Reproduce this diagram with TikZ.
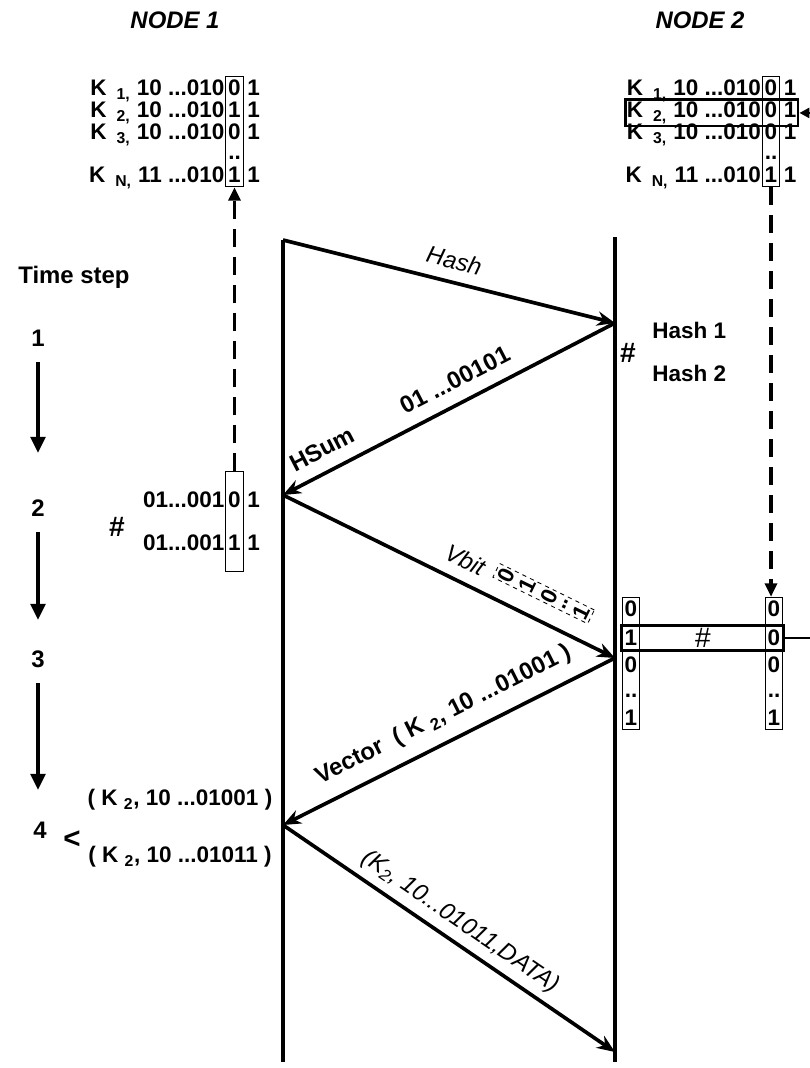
\documentclass[tikz,border=0pt]{standalone}
\usepackage{fontspec}
\setmainfont{Liberation Sans}
\usetikzlibrary{arrows.meta,positioning,fit}

\begin{document}
\begin{tikzpicture}[
    x=0.025cm, y=-0.025cm,
    txt/.style={font=\fontsize{16}{18}\selectfont\bfseries, inner sep=0pt},
    lbl/.style={font=\fontsize{17}{19}\selectfont\bfseries, inner sep=9pt},
    ilbl/.style={font=\fontsize{17}{19}\selectfont\itshape, inner sep=8pt},
    bit/.style={txt, minimum width=0.42cm, minimum height=0.5cm},
    colbox/.style={draw, line width=0.6pt, inner xsep=0pt, inner ysep=1pt},
    rowbox/.style={draw, line width=1.8pt, inner xsep=1pt, inner ysep=0.05cm},
    vecbox/.style={draw, dashed, line width=0.6pt, inner xsep=2pt, inner ysep=1pt, font=\fontsize{16}{18}\selectfont\bfseries},
    lifeline/.style={line width=2.6pt},
    msg/.style={-{Stealth[length=4.5mm,width=3.6mm]}, line width=2.6pt},
    tarrow/.style={-{Triangle[length=4mm,width=3.6mm]}, line width=2.6pt},
    dasharrow/.style={-{Triangle[length=3.4mm,width=3mm]}, line width=2.8pt, dash pattern=on 0.45cm off 0.25cm},
    link/.style={-{Triangle[length=2.5mm,width=2.5mm]}, line width=1.8pt}
]
  \clip (0,0) rectangle (810,1068);

  % headers
  \node[txt, font=\fontsize{17}{19}\selectfont\bfseries\itshape] (node1) at (175,20) {NODE 1};
  \node[txt, font=\fontsize{17}{19}\selectfont\bfseries\itshape] (node2) at (700,20) {NODE 2};

  % key tables
  \foreach \sub/\bits/\dl/\dr/\y in {1/10/0/0/88, 2/10/1/0/110, 3/10/0/0/132, N/11/1/1/175} {
    \node[bit] (l\sub) at (234.5,\y) {\dl};
    \node[txt, base left=0.03cm of l\sub] (lp\sub) {K \,\textsubscript{\sub,} \bits\ ...010};
    \node[txt, base right=0.1cm of l\sub] (le\sub) {1};
    \node[bit] (r\sub) at (771,\y) {\dr};
    \node[txt, base left=0.03cm of r\sub] (rp\sub) {K \,\textsubscript{\sub,} \bits\ ...010};
    \node[txt, base right=0.1cm of r\sub] (re\sub) {1};
  }
  \node[bit] (ldots) at (234.5,152) {..\vphantom{0}};
  \node[bit] (rdots) at (771,152) {..\vphantom{0}};
  \node[colbox, fit=(l1)(lN)] (lcol) {};
  \node[colbox, fit=(r1)(rN)] (rcol) {};
  \node[rowbox, fit=(rp2)(re2)] (rrow) {};

  % lifelines
  \coordinate (n1top) at (283,240);
  \coordinate (n1bot) at (283,1062);
  \coordinate (n2top) at (615,237);
  \coordinate (n2bot) at (615,1062);
  \draw[lifeline] (n1top) -- (n1bot);
  \draw[lifeline] (n2top) -- (n2bot);

  \coordinate (a1) at (283,240);
  \coordinate (b1) at (615,323);
  \coordinate (a2) at (283,495);
  \coordinate (b2) at (615,658);
  \coordinate (a3) at (283,825);
  \coordinate (b3) at (615,1052);

  % messages
  \draw[msg] (a1) -- node[sloped, above, pos=0.5, ilbl] {Hash} (b1);
  \draw[msg] (b1) -- node[sloped, above, pos=0.45, lbl] {01 ...00101}
                     node[sloped, above, pos=0.85, lbl] {HSum} (a2);
  \draw[msg] (a2) -- node[sloped, above, pos=0.52, ilbl] {Vbit}
                     node[sloped, above=13pt, pos=0.75, vecbox] {\rotatebox{90}{\shortstack{0\\[3pt]1\\[3pt]0\\[3pt]..\\[3pt]1}}} (b2);
  \draw[msg] (b2) -- node[sloped, above, pos=0.48, lbl] {Vector \ ( K \textsubscript{2}, 10 ...01001 )} (a3);
  \draw[msg] (a3) -- node[sloped, above, pos=0.5, ilbl, inner sep=5pt] {(K\textsubscript{2}, 10...01011,DATA)} (b3);

  % time steps
  \node[txt, font=\fontsize{17}{19}\selectfont\bfseries] (tstep) at (74,277) {Time step};
  \node[txt, font=\fontsize{17}{19}\selectfont\bfseries] (t1) at (38,338) {1};
  \node[txt, font=\fontsize{17}{19}\selectfont\bfseries] (t2) at (38,508) {2};
  \node[txt, font=\fontsize{17}{19}\selectfont\bfseries] (t3) at (38,659) {3};
  \node[txt, font=\fontsize{17}{19}\selectfont\bfseries] (t4) at (40,830) {4};
  \draw[tarrow, shorten <=0.6cm, shorten >=1.375cm] (t1.center) -- (t2.center);
  \draw[tarrow, shorten <=0.6cm, shorten >=0.975cm] (t2.center) -- (t3.center);
  \draw[tarrow, shorten <=0.6cm, shorten >=1cm] (t3.center) -- (t3.center |- t4.center);
  \node[txt, font=\fontsize{21}{23}\selectfont\bfseries] (lt) at (72,840) {\textless};

  % step 2 at node 1
  \node[txt, font=\fontsize{20}{22}\selectfont\bfseries] (hl) at (117,527) {\#};
  \node[bit] (h1) at (234.5,500) {0};
  \node[txt, base left=0.03cm of h1] (hp1) {01...001};
  \node[txt, base right=0.1cm of h1] (he1) {1};
  \node[bit] (h2) at (234.5,543) {1};
  \node[txt, base left=0.03cm of h2] (hp2) {01...001};
  \node[txt, base right=0.1cm of h2] (he2) {1};
  \node[colbox, fit=(h1)(h2), inner ysep=0.45cm] (hcol) {};
  \draw[dasharrow] (hcol.north) -- (lcol.south);

  % step 1 at node 2
  \node[txt, font=\fontsize{20}{22}\selectfont\bfseries] (hr) at (628,353) {\#};
  \node[txt, anchor=west] (hash1) at (652,330) {Hash 1};
  \node[txt, anchor=west] (hash2) at (652,373) {Hash 2};

  % step 3 at node 2
  \foreach \n/\dl/\dr/\y in {1/0/0/609, 2/1/0/638, 3/0/0/665, 5/1/1/718} {
    \node[bit] (mL\n) at (631,\y) {\dl};
    \node[bit] (mR\n) at (774,\y) {\dr};
  }
  \node[bit] (mL4) at (631,690) {..\vphantom{0}};
  \node[bit] (mR4) at (774,690) {..\vphantom{0}};
  \node[colbox, fit=(mL1)(mL5)] (mLcol) {};
  \node[colbox, fit=(mR1)(mR5)] (mRcol) {};
  \node[rowbox, fit=(mL2)(mR2)] (mrow) {};
  \node[txt, font=\fontsize{20}{22}\selectfont] (hm) at (703,638) {\#};
  \draw[dasharrow] (rcol.south) -- (rcol.south |- mRcol.north);
  \draw[link] (mrow.east) -- ++(60,0) |- (rrow.east);

  % step 4 at node 1
  \node[txt] (v1) at (180,800) {( K \textsubscript{2}, 10 ...01001 )};
  \node[txt] (v2) at (180,857) {( K \textsubscript{2}, 10 ...01011 )};
\end{tikzpicture}
\end{document}
